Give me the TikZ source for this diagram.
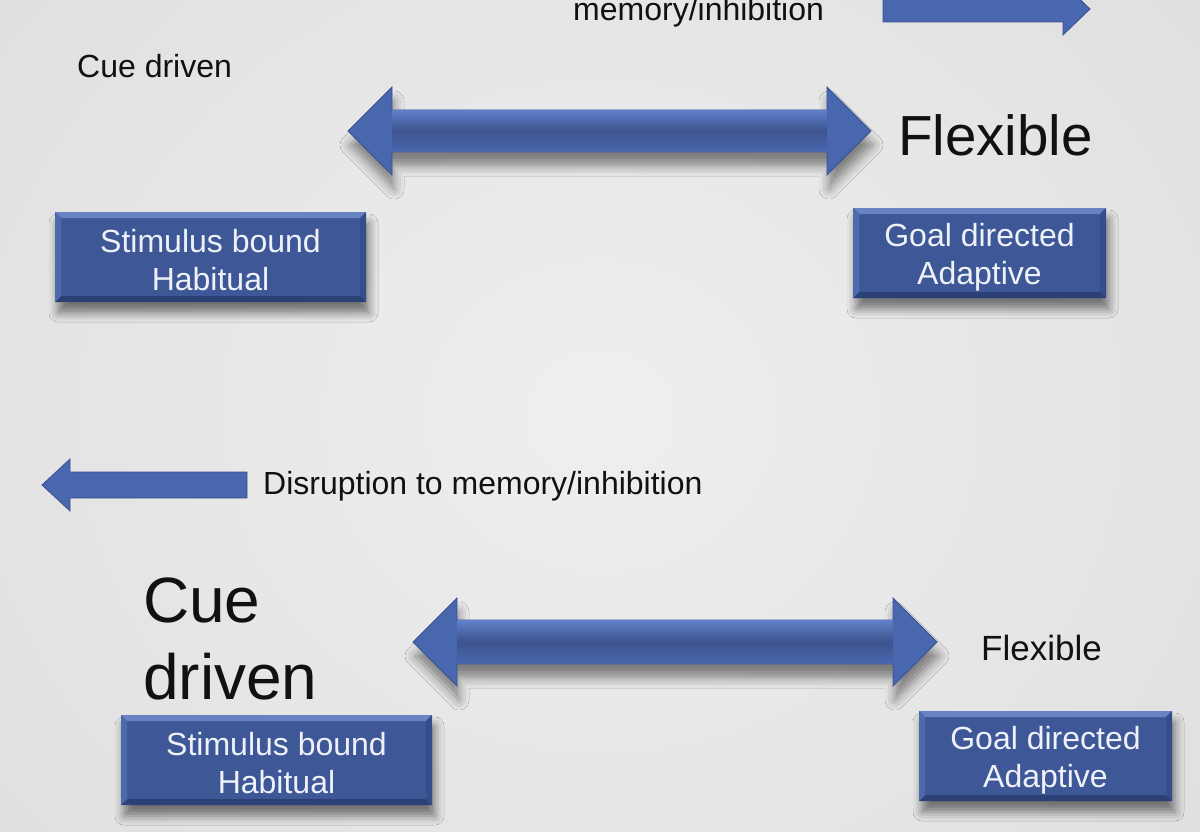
\documentclass[tikz,border=0pt]{standalone}
\usepackage{fontspec}
\setmainfont{Liberation Sans}
\usetikzlibrary{shadows.blur}
\definecolor{bgin}{HTML}{EFEFEF}
\definecolor{bgout}{HTML}{E0E0E0}
\definecolor{boxblue}{HTML}{3E5797}
\definecolor{bevtop}{HTML}{6783C4}
\definecolor{bevleft}{HTML}{4D6AAD}
\definecolor{bevright}{HTML}{344E8A}
\definecolor{bevbot}{HTML}{2B4075}
\definecolor{boxtext}{HTML}{EEF2F8}
\definecolor{arrowblue}{HTML}{4967AE}
\definecolor{arrowlight}{HTML}{5F80C9}
\definecolor{arrowdark}{HTML}{3D548E}
\definecolor{arrowedge}{HTML}{3A5291}
\definecolor{ink}{HTML}{111111}
\tikzset{
  txt/.style={inner sep=0pt, text=ink, font=\fontsize{32}{38}\selectfont},
  boxtxt/.style={inner sep=0pt, align=center, text=boxtext, font=\fontsize{32}{37.5}\selectfont},
  bluebox/.style={fill=boxblue, minimum width=#1, minimum height=90pt, inner sep=0pt,
    blur shadow={shadow xshift=3pt, shadow yshift=-11pt, shadow blur radius=9pt, shadow opacity=50},
    path picture={
      \fill[bevtop] (path picture bounding box.north west) -- (path picture bounding box.north east)
        -- ([xshift=-6pt,yshift=-6pt]path picture bounding box.north east)
        -- ([xshift=6pt,yshift=-6pt]path picture bounding box.north west) -- cycle;
      \fill[bevbot] (path picture bounding box.south west) -- (path picture bounding box.south east)
        -- ([xshift=-6pt,yshift=6pt]path picture bounding box.south east)
        -- ([xshift=6pt,yshift=6pt]path picture bounding box.south west) -- cycle;
      \fill[bevleft] (path picture bounding box.north west) -- (path picture bounding box.south west)
        -- ([xshift=6pt,yshift=6pt]path picture bounding box.south west)
        -- ([xshift=6pt,yshift=-6pt]path picture bounding box.north west) -- cycle;
      \fill[bevright] (path picture bounding box.north east) -- (path picture bounding box.south east)
        -- ([xshift=-6pt,yshift=6pt]path picture bounding box.south east)
        -- ([xshift=-6pt,yshift=-6pt]path picture bounding box.north east) -- cycle;
    }},
  bigarrow/.style={fill=arrowblue, draw=arrowedge, line width=0.8pt,
    blur shadow={shadow xshift=2pt, shadow yshift=-14pt, shadow blur radius=10pt, shadow opacity=45}},
  arrowbody/.style={top color=arrowlight, bottom color=arrowblue, middle color=arrowdark},
  smallarrow/.style={fill=arrowblue, draw=arrowedge, line width=0.8pt}
}
\begin{document}
\begin{tikzpicture}[x=1pt,y=-1pt]
\useasboundingbox (0,0) rectangle (1200,832);
\clip (0,0) rectangle (1200,832);
\shade[inner color=bgin, outer color=bgout] (-150,-250) rectangle (1350,1082);

% top right arrow (cut off)
\draw[smallarrow] (1090,9) -- (1063,-17) -- (1063,-4) -- (883,-4) -- (883,22) -- (1063,22) -- (1063,35) -- cycle;
\node[txt, anchor=base west] (mem) at (573,21) {memory/inhibition};

\node[txt, anchor=base west] (cue1) at (77,78) {Cue driven};

% top double arrow
\draw[bigarrow] (348,131) -- (392,87) -- (392,110) -- (827,110) -- (827,87) -- (871,131)
  -- (827,175) -- (827,152) -- (392,152) -- (392,175) -- cycle;
\shade[arrowbody] (392,110.5) rectangle (827,151.5);

\node[txt, anchor=base west, font=\fontsize{56.5}{60}\selectfont] (flex1) at (898,156) {Flexible};

\node[bluebox=311pt] (sb1) at (210.5,257) {};
\node[boxtxt] (sb1t) at ([yshift=-3pt]sb1.center) {Stimulus bound\\Habitual};
\node[bluebox=253pt] (gd1) at (979.5,253) {};
\node[boxtxt] (gd1t) at ([yshift=-4pt]gd1.center) {Goal directed\\Adaptive};

% left arrow
\draw[smallarrow] (42,485) -- (70,459) -- (70,472) -- (247,472) -- (247,498) -- (70,498) -- (70,511) -- cycle;
\node[txt, anchor=base west] (dis) at (263,494) {Disruption to memory/inhibition};

\node[txt, anchor=west, align=left, font=\fontsize{64}{77}\selectfont] (cue2) at (143,639) {Cue\\driven};

% bottom double arrow
\draw[bigarrow] (413,642) -- (457,598) -- (457,620) -- (893,620) -- (893,598) -- (937,642)
  -- (893,686) -- (893,664) -- (457,664) -- (457,686) -- cycle;
\shade[arrowbody] (457,620.5) rectangle (893,663.5);

\node[txt, anchor=base west, font=\fontsize{35}{40}\selectfont] (flex2) at (981,660) {Flexible};

\node[bluebox=311pt] (sb2) at (276.5,760) {};
\node[boxtxt] (sb2t) at ([yshift=-3pt]sb2.center) {Stimulus bound\\Habitual};
\node[bluebox=253pt] (gd2) at (1045.5,756) {};
\node[boxtxt] (gd2t) at ([yshift=-4pt]gd2.center) {Goal directed\\Adaptive};
\end{tikzpicture}
\end{document}
